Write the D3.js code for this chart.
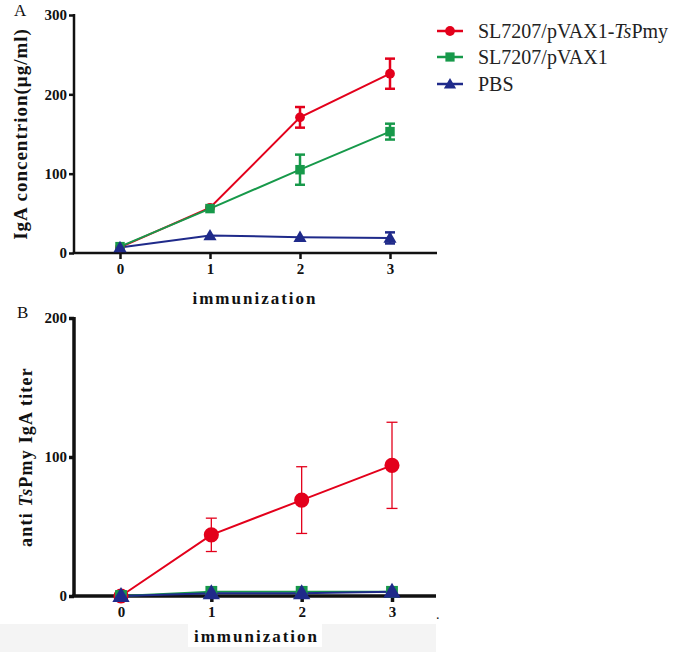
<!DOCTYPE html>
<html><head><meta charset="utf-8">
<script src="https://cdn.jsdelivr.net/npm/d3@7"></script>
<style>body{margin:0;background:#fff}svg{display:block}</style>
</head><body>
<script>
// ---- data ----
const doses = [0, 1, 2, 3];
const seriesNames = ["SL7207/pVAX1-TsPmy", "SL7207/pVAX1", "PBS"];
const colors = ["#e3001b", "#17994a", "#1f2a8a"];
// Panel A: IgA concentration (µg/ml)
const igaRed = [7, 57, 171, 226];
const igaRedErr = [0, 0, 13, 19];
const igaGreen = [8, 56, 105, 153];
const igaGreenErr = [0, 0, 19, 10];
const igaBlue = [7, 22, 20, 19];
const igaBlueErr = [0, 0, 0, 7];
const yTicksA = [0, 100, 200, 300];
// Panel B: anti TsPmy IgA titer
const titerRed = [0, 44, 69, 94];
const titerRedErr = [0, 12, 24, 31];
const titerGreen = [0, 3, 3, 3];
const titerGreenErr = [0, 0, 0, 0];
const titerBlue = [0, 2, 2, 3];
const titerBlueErr = [0, 0, 0, 0];
const yTicksB = [0, 100, 200];

const W = 678, H = 652;
const svg = d3.select("body").append("svg").attr("width", W).attr("height", H);
const serif = "'Liberation Serif','Times New Roman',serif";

// light band at bottom
svg.append("rect").attr("x", 0).attr("y", 624).attr("width", 436).attr("height", 28).attr("fill", "#f4f4f4");
svg.append("rect").attr("x", 188).attr("y", 624).attr("width", 134).attr("height", 23).attr("fill", "#fff");

function symbol(g, type, x, y, size, color) {
  const t = type === 0 ? d3.symbolCircle : type === 1 ? d3.symbolSquare : d3.symbolTriangle;
  g.append("path").attr("d", d3.symbol().type(t).size(size)())
    .attr("transform", `translate(${x},${y + (type === 2 ? 1 : 0)})`).attr("fill", color);
}

function panel(cfg) {
  const g = svg.append("g");
  const x = d3.scaleLinear().domain([0, 3]).range([cfg.x0, cfg.x3]);
  const y = d3.scaleLinear().domain([0, cfg.ymax]).range([cfg.ybot, cfg.ytop]);
  const yAxis = d3.axisLeft(y).tickValues(cfg.yticks).tickSize(5).tickPadding(2).tickFormat(d3.format("d"));
  const ya = g.append("g").attr("transform", `translate(${cfg.axX},0)`).call(yAxis);
  const xAxis = d3.axisBottom(x).tickValues(doses).tickSize(6).tickPadding(4).tickFormat(d3.format("d"));
  const xa = g.append("g").attr("transform", `translate(0,${cfg.ybot})`).call(xAxis);
  [ya, xa].forEach(a => {
    a.attr("font-family", null);
    a.select(".domain").remove();
    a.selectAll(".tick line").attr("stroke", "#111").attr("stroke-width", cfg.axW);
    a.selectAll("text").attr("font-family", serif).attr("font-weight", "bold").attr("font-size", 15).attr("fill", "#111");
  });
  g.append("line").attr("x1", cfg.axX).attr("x2", cfg.axX).attr("y1", cfg.ytop - 1).attr("y2", cfg.ybot)
    .attr("stroke", "#111").attr("stroke-width", cfg.axW);
  g.append("line").attr("x1", cfg.axX - cfg.axW / 2).attr("x2", cfg.xend).attr("y1", cfg.ybot).attr("y2", cfg.ybot)
    .attr("stroke", "#111").attr("stroke-width", cfg.axW);
  const line = d3.line().x((d, i) => x(doses[i])).y(d => y(d));
  cfg.series.forEach((s, k) => {
    g.append("path").datum(s.v).attr("d", line).attr("fill", "none").attr("stroke", colors[k]).attr("stroke-width", cfg.lineW);
  });
  cfg.series.forEach((s, k) => {
    s.v.forEach((v, i) => {
      const e = s.e[i];
      if (e > 0) {
        const cx = x(doses[i]);
        g.append("line").attr("x1", cx).attr("x2", cx).attr("y1", y(v + e)).attr("y2", y(v - e)).attr("stroke", colors[k]).attr("stroke-width", cfg.errW);
        [v + e, v - e].forEach(yy => g.append("line").attr("x1", cx - cfg.cap).attr("x2", cx + cfg.cap).attr("y1", y(yy)).attr("y2", y(yy)).attr("stroke", colors[k]).attr("stroke-width", cfg.errW));
      }
    });
  });
  cfg.drawOrder.forEach(k => {
    const s = cfg.series[k];
    s.v.forEach((v, i) => symbol(g, k, x(doses[i]), y(v), cfg.sym[k], colors[k]));
  });
  g.append("text").attr("x", (cfg.x0 + cfg.x3) / 2).attr("y", cfg.xlabY).attr("text-anchor", "middle")
    .attr("font-family", serif).attr("font-weight", "bold").attr("font-size", 17).attr("letter-spacing", "2px").attr("fill", "#111")
    .text("immunization");
  const yl = g.append("text").attr("transform", `translate(${cfg.ylabX},${cfg.ylabY}) rotate(-90)`).attr("text-anchor", "middle")
    .attr("font-family", serif).attr("font-weight", "bold").attr("font-size", cfg.ylabSize).attr("letter-spacing", cfg.ylabLS).attr("fill", "#111");
  cfg.ylab.forEach(p => yl.append("tspan").attr("font-style", p[1] ? "italic" : "normal").text(p[0]));
  g.append("text").attr("x", cfg.letterX).attr("y", cfg.letterY).attr("font-family", serif).attr("font-size", 17).attr("fill", "#111").text(cfg.letter);
  return g;
}

panel({
  x0: 120, x3: 390, xend: 437, axX: 74, ytop: 15, ybot: 253, ymax: 300, yticks: yTicksA,
  axW: 2.5, lineW: 2, errW: 2.5, cap: 5, sym: [75, 90, 75], drawOrder: [0, 1, 2],
  series: [{ v: igaRed, e: igaRedErr }, { v: igaGreen, e: igaGreenErr }, { v: igaBlue, e: igaBlueErr }],
  xlabY: 304, ylabX: 27, ylabY: 134, ylabSize: 19, ylabLS: "1px", ylab: [["IgA concentrion(μg/ml)", false]],
  letter: "A", letterX: 14, letterY: 16
});

panel({
  x0: 121, x3: 392, xend: 436, axX: 74, ytop: 318, ybot: 596, ymax: 200, yticks: yTicksB,
  axW: 3.5, lineW: 2, errW: 1.3, cap: 5.5, sym: [180, 140, 130], drawOrder: [0, 1, 2],
  series: [{ v: titerRed, e: titerRedErr }, { v: titerGreen, e: titerGreenErr }, { v: titerBlue, e: titerBlueErr }],
  xlabY: 642, ylabX: 32, ylabY: 457, ylabSize: 18, ylabLS: "1.2px", ylab: [["anti ", false], ["Ts", true], ["Pmy IgA titer", false]],
  letter: "B", letterX: 17, letterY: 318
});

svg.append("text").attr("x", 436).attr("y", 619).attr("font-family", serif).attr("font-size", 14).attr("fill", "#111").text(".");

// legend
const legend = svg.append("g");
const legendY = [31, 57, 84];
seriesNames.forEach((n, k) => {
  const ly = legendY[k];
  legend.append("line").attr("x1", 437).attr("x2", 463).attr("y1", ly).attr("y2", ly).attr("stroke", colors[k]).attr("stroke-width", 2.5);
  symbol(legend, k, 450, ly, k === 0 ? 75 : k === 1 ? 85 : 65, colors[k]);
  const t = legend.append("text").attr("x", 478).attr("y", ly + 7).attr("font-family", serif).attr("font-size", 20).attr("fill", "#222");
  if (k === 0) {
    t.append("tspan").text("SL7207/pVAX1-");
    t.append("tspan").attr("font-style", "italic").text("Ts");
    t.append("tspan").text("Pmy");
  } else t.text(n);
});
</script>
</body></html>
